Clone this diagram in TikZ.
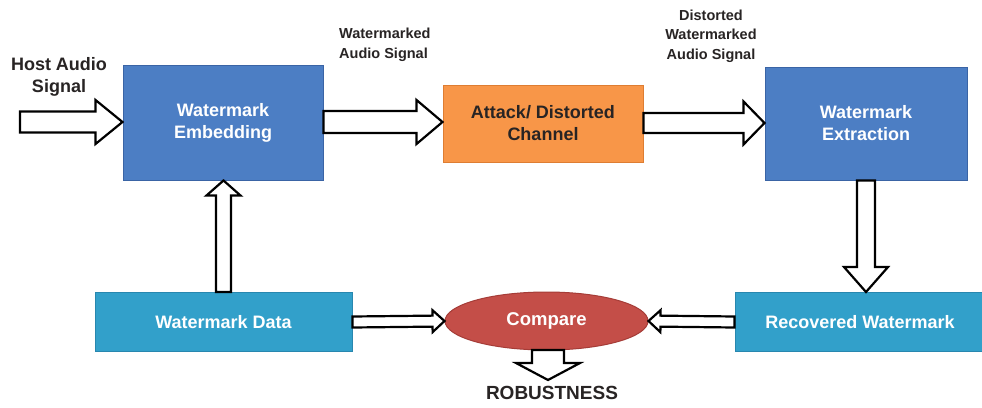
\documentclass[tikz,border=0pt]{standalone}
\usepackage{fontspec}
\setmainfont{Liberation Sans}
\usetikzlibrary{calc,shapes.geometric}
\definecolor{boxblue}{RGB}{76,126,196}
\definecolor{boxblueb}{RGB}{58,100,165}
\definecolor{boxteal}{RGB}{50,160,202}
\definecolor{boxtealb}{RGB}{40,135,175}
\definecolor{boxorange}{RGB}{248,150,72}
\definecolor{boxorangeb}{RGB}{222,125,50}
\definecolor{cmpred}{RGB}{196,78,72}
\definecolor{cmpredb}{RGB}{165,60,55}
\definecolor{txtdark}{RGB}{40,36,36}
\tikzset{
  blk/.style={draw, line width=1pt, inner sep=0pt, align=center, font=\fontsize{18}{22}\selectfont\bfseries},
  bluebox/.style={blk, fill=boxblue, draw=boxblueb, text=white},
  tealbox/.style={blk, fill=boxteal, draw=boxtealb, text=white},
  orangebox/.style={blk, fill=boxorange, draw=boxorangeb, text=txtdark},
  cmpnode/.style={ellipse, draw=cmpredb, line width=1pt, fill=cmpred, text=white, inner sep=0pt, font=\fontsize{18.5}{22}\selectfont\bfseries},
  lbl/.style={text=txtdark, inner sep=0pt, font=\fontsize{14.5}{19.5}\selectfont\bfseries},
  biglbl/.style={text=txtdark, inner sep=0pt, font=\fontsize{18}{22}\selectfont\bfseries},
  fatarrow/.style={draw=black, line width=2.2pt, fill=white, line join=miter},
}
% #1 start, #2 tip, #3 half shaft, #4 half head, #5 head length
\newcommand\fatarr[5]{%
  \coordinate (fa-s) at (#1);
  \coordinate (fa-e) at (#2);
  \coordinate (fa-h) at ($(fa-e)!#5!(fa-s)$);
  \draw[fatarrow] ($(fa-s)!#3!90:(fa-e)$) -- ($(fa-h)!#3!-90:(fa-s)$) -- ($(fa-h)!#4!-90:(fa-s)$) -- (fa-e) -- ($(fa-h)!#4!90:(fa-s)$) -- ($(fa-h)!#3!90:(fa-s)$) -- ($(fa-s)!#3!-90:(fa-e)$) -- cycle;
}
\begin{document}
\begin{tikzpicture}[x=1pt,y=-1pt]
\useasboundingbox[fill=white] (0,0) rectangle (982,407);

\node[bluebox, minimum width=200pt, minimum height=115pt] (emb) at (223,122.5) {Watermark\\Embedding};
\node[orangebox, minimum width=200pt, minimum height=77pt] (att) at (543,123.5) {Attack/ Distorted\\Channel};
\node[bluebox, minimum width=202pt, minimum height=113pt] (ext) at (866,123.5) {Watermark\\Extraction};
\node[tealbox, minimum width=257pt, minimum height=59pt] (data) at (223.5,322) {Watermark Data};
\node[tealbox, minimum width=250pt, minimum height=59pt] (rec) at (860,322) {Recovered Watermark};
\node[cmpnode, minimum width=203pt, minimum height=58pt] (cmp) at (546.5,321) {Compare};

\node[biglbl, align=center] (host) at (59,76.5) {Host Audio\\Signal};
\node[lbl, align=left, anchor=west] (wlbl) at (339,45) {Watermarked\\Audio Signal};
\node[lbl, align=center] (dlbl) at (711,36) {Distorted\\Watermarked\\Audio Signal};
\node[font=\fontsize{19}{22}\selectfont\bfseries, text=txtdark, inner sep=0pt] (rob) at (552,393) {ROBUSTNESS};

\coordinate (hs) at (20,122);
\fatarr{hs}{emb.west |- hs}{10.5pt}{22pt}{27pt}
\coordinate (ea) at (emb.east |- 0,122);
\fatarr{ea}{att.west |- ea}{11pt}{22pt}{26pt}
\coordinate (ae) at (att.east |- 0,123);
\fatarr{ae}{ext.west |- ae}{10pt}{21.5pt}{21pt}
\fatarr{ext.south}{rec.north -| ext.south}{9pt}{22pt}{25pt}
\fatarr{data.north}{emb.south -| data.north}{7.5pt}{17pt}{15pt}
\fatarr{data.east}{cmp.west}{5.5pt}{11pt}{12pt}
\fatarr{rec.west}{cmp.east}{5.5pt}{11pt}{12pt}
\coordinate (cb) at (548,350);
\coordinate (rt) at (548,380);
\fatarr{cb}{rt}{16pt}{32pt}{17pt}
\end{tikzpicture}
\end{document}
